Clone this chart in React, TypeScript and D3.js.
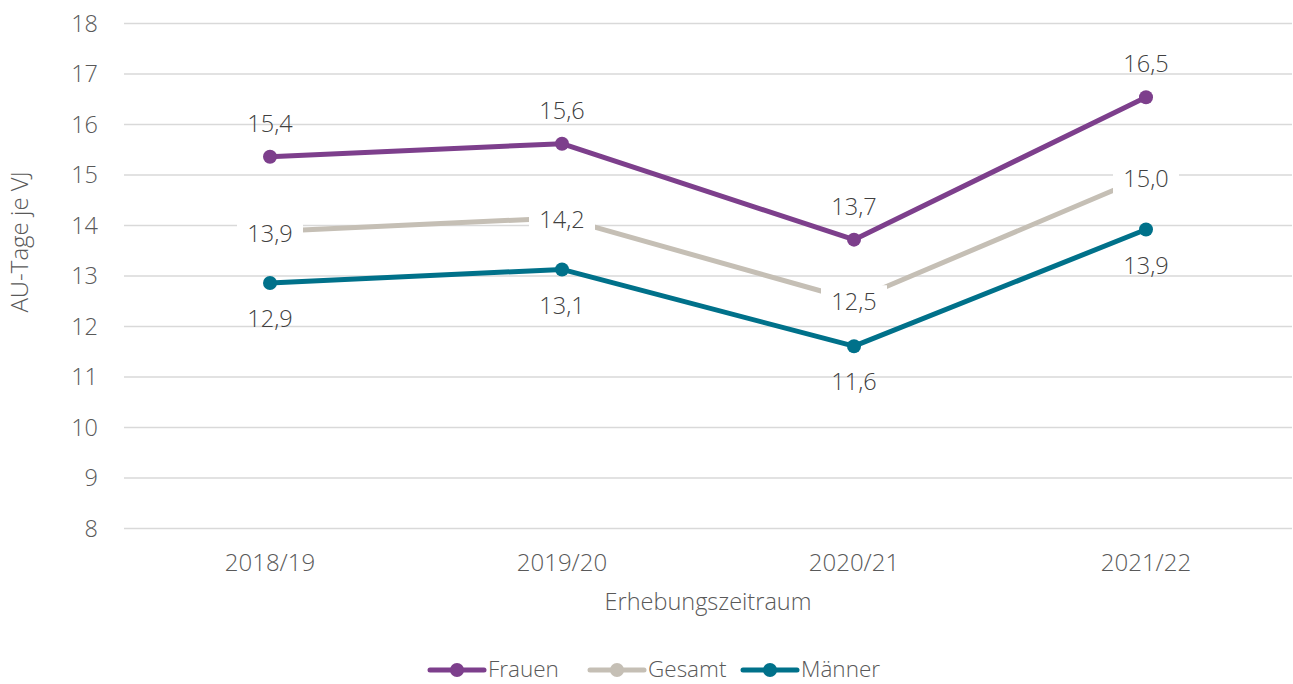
import React, { useRef, useEffect } from 'react';
import * as d3 from 'd3';

const periods = ['2018/19', '2019/20', '2020/21', '2021/22'];
const frauen = [15.36, 15.62, 13.72, 16.54];
const gesamt = [13.88, 14.15, 12.52, 14.97];
const maenner = [12.86, 13.13, 11.61, 13.92];
const yTicks = [8, 9, 10, 11, 12, 13, 14, 15, 16, 17, 18];

const seriesList = [
  { name: 'Frauen', values: frauen, color: '#7d3f8c', label: 'above' },
  { name: 'Gesamt', values: gesamt, color: '#c5bfb5', label: 'center' },
  { name: 'Männer', values: maenner, color: '#00718a', label: 'below' },
];

const W = 1293, H = 684;
const FONT = '"Open Sans", Roboto, sans-serif';

export default function App() {
  const svgRef = useRef<SVGSVGElement>(null);

  useEffect(() => {
    const svg = d3.select(svgRef.current);
    svg.selectAll('*').remove();

    const left = 124, right = 1292, top = 23.5, bottom = 528.5;

    const x = d3.scaleBand().domain(periods).range([left, right]);
    const y = d3.scaleLinear().domain([8, 18]).range([bottom, top]);
    const cx = (p: string) => (x(p) as number) + x.bandwidth() / 2;

    const txt = (sel: any, size = 20, fill = '#595959') =>
      sel.attr('font-size', size).attr('fill', fill).attr('font-family', FONT).attr('font-weight', 300);

    // grid
    svg.append('g').selectAll('line').data(yTicks).join('line')
      .attr('x1', left).attr('x2', right)
      .attr('y1', d => y(d)).attr('y2', d => y(d))
      .attr('stroke', '#d9d9d9').attr('stroke-width', 1.5);

    txt(svg.append('g').selectAll('text').data(yTicks).join('text')
      .attr('x', 98).attr('y', d => y(d)).attr('dy', '0.35em')
      .attr('text-anchor', 'end'), 23.5)
      .text(d => d);

    txt(svg.append('g').selectAll('text').data(periods).join('text')
      .attr('x', d => cx(d)).attr('y', 563).attr('dy', '0.35em')
      .attr('text-anchor', 'middle'), 24)
      .text(d => d);

    txt(svg.append('text')
      .attr('x', (left + right) / 2).attr('y', 602).attr('dy', '0.35em')
      .attr('text-anchor', 'middle'), 23.5)
      .text('Erhebungszeitraum');

    txt(svg.append('text')
      .attr('transform', `translate(20,242) rotate(-90)`).attr('dy', '0.35em')
      .attr('text-anchor', 'middle'), 24)
      .text('AU-Tage je VJ');

    const line = d3.line<number>()
      .x((_, i) => cx(periods[i]))
      .y(d => y(d));

    seriesList.forEach(s => {
      const g = svg.append('g');
      g.append('path').datum(s.values)
        .attr('d', line).attr('fill', 'none')
        .attr('stroke', s.color).attr('stroke-width', 5).attr('stroke-linejoin', 'round');
      g.selectAll('circle').data(s.values).join('circle')
        .attr('cx', (_, i) => cx(periods[i])).attr('cy', d => y(d))
        .attr('r', 7).attr('fill', s.color);
    });

    const fmt = (v: number) => v.toFixed(1).replace('.', ',');

    seriesList.forEach(s => {
      const g = svg.append('g');
      s.values.forEach((v, i) => {
        const px = cx(periods[i]);
        const off = s.label === 'above' ? -33 : s.label === 'below' ? 36 : 2;
        const py = y(v) + off;
        if (s.label === 'center') {
          g.append('rect')
            .attr('x', px - 33).attr('y', py - 17)
            .attr('width', 66).attr('height', 34).attr('fill', '#fff');
        }
        txt(g.append('text')
          .attr('x', px).attr('y', py).attr('dy', '0.35em')
          .attr('text-anchor', 'middle'), 23.5, '#404040')
          .text(fmt(v));
      });
    });

    // legend
    const legendItems = [
      { s: seriesList[0], x0: 430 },
      { s: seriesList[1], x0: 590 },
      { s: seriesList[2], x0: 743 },
    ];
    const ly = 669;
    legendItems.forEach(({ s, x0 }) => {
      const g = svg.append('g');
      g.append('line').attr('x1', x0).attr('x2', x0 + 54).attr('y1', ly + 1).attr('y2', ly + 1)
        .attr('stroke', s.color).attr('stroke-width', 5).attr('stroke-linecap', 'round');
      g.append('circle').attr('cx', x0 + 27).attr('cy', ly + 1).attr('r', 7).attr('fill', s.color);
      txt(g.append('text').attr('x', x0 + 58).attr('y', ly).attr('dy', '0.35em'), 22.5)
        .text(s.name);
    });
  }, []);

  return (
    <svg ref={svgRef} width={W} height={H} style={{ position: 'absolute', left: 0, top: 0, background: '#fff' }} />
  );
}
